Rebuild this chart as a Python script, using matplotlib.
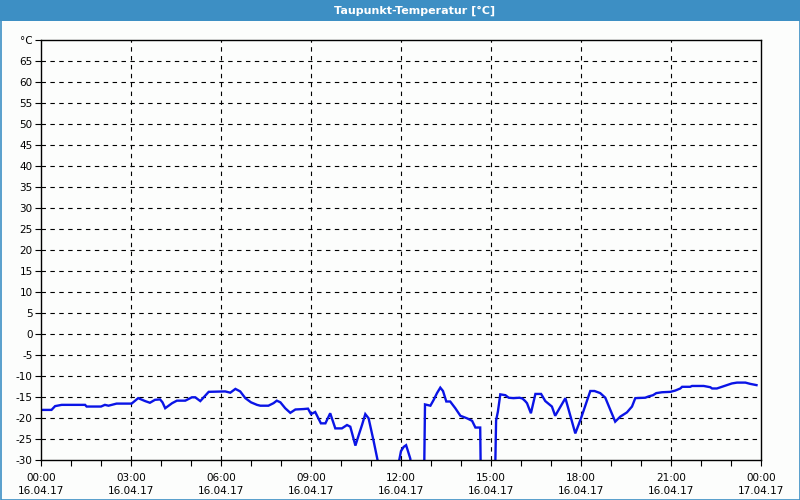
import matplotlib.pyplot as plt
from matplotlib.patches import Rectangle

# Stunden seit 16.04.17 00:00 und Taupunkt in °C
hours = [0.0, 0.35, 0.47, 0.69, 1.47, 1.52, 2.0, 2.13, 2.25, 2.52, 3.02, 3.24, 3.47, 3.63,
         3.8, 3.97, 4.05, 4.14, 4.37, 4.53, 4.81, 5.03, 5.14, 5.31, 5.59, 6.14, 6.31, 6.48,
         6.64, 6.81, 7.0, 7.2, 7.31, 7.58, 7.75, 7.86, 7.98, 8.14, 8.31, 8.48, 8.75, 8.9,
         9.0, 9.14, 9.33, 9.48, 9.64, 9.81, 10.03, 10.2, 10.31, 10.48, 10.59, 10.7, 10.81,
         10.92, 11.09, 11.22, 11.3, 11.9, 11.94, 12.0, 12.09, 12.17, 12.31, 12.4, 12.76,
         12.8, 12.98, 13.09, 13.2, 13.31, 13.4, 13.51, 13.64, 13.81, 13.98, 14.2, 14.37,
         14.48, 14.64, 14.67, 15.12, 15.17, 15.23, 15.31, 15.48, 15.59, 15.75, 15.95, 16.05,
         16.14, 16.2, 16.33, 16.48, 16.67, 16.81, 17.03, 17.14, 17.48, 17.81,
         18.0, 18.31, 18.45, 18.64, 18.81, 19.14, 19.31, 19.53, 19.7, 19.81, 20.14, 20.25,
         20.4, 20.51, 20.7, 20.98, 21.14, 21.31, 21.37, 21.64, 21.7, 22.09, 22.31, 22.37,
         22.53, 22.7, 22.87, 23.03, 23.2, 23.48, 23.64, 23.85]
dewpoint = [-18.0, -18.0, -17.1, -16.8, -16.8, -17.2, -17.2, -16.8, -17.0, -16.5, -16.5, -15.2,
            -15.9, -16.3, -15.6, -15.5, -16.2, -17.6, -16.4, -15.8, -15.8, -15.0, -15.0, -15.9,
            -13.7, -13.6, -13.9, -13.0, -13.6, -15.2, -16.2, -16.8, -17.0, -17.0, -16.4, -15.8,
            -16.2, -17.6, -18.7, -17.9, -17.8, -17.7, -19.0, -18.5, -21.2, -21.2, -18.8, -22.4,
            -22.4, -21.6, -22.0, -26.5, -24.0, -21.6, -19.0, -20.0, -25.5, -30.0, -40.0, -40.0,
            -30.0, -27.8, -26.8, -26.4, -29.6, -40.0, -40.0, -16.7, -17.0, -15.6, -14.0, -12.7,
            -13.5, -16.0, -16.0, -17.6, -19.4, -20.0, -20.6, -22.2, -22.2, -40.0, -40.0, -20.5,
            -18.4, -14.3, -14.5, -15.1, -15.2, -15.1, -15.3,
            -15.9, -16.4, -18.8, -14.2, -14.2, -15.9, -17.2, -19.4, -15.2, -23.6,
            -20.0, -13.5, -13.5, -14.0, -15.1, -20.8, -19.6, -18.6, -17.2, -15.2, -15.1, -14.8,
            -14.5, -14.0, -13.8, -13.7, -13.4, -12.9, -12.5, -12.5, -12.3, -12.3, -12.6, -12.9,
            -12.9, -12.5, -12.1, -11.7, -11.5, -11.5, -11.8, -12.1]

x_ticks = [0, 3, 6, 9, 12, 15, 18, 21, 24]
x_labels = ['00:00\n16.04.17', '03:00\n16.04.17', '06:00\n16.04.17', '09:00\n16.04.17',
            '12:00\n16.04.17', '15:00\n16.04.17', '18:00\n16.04.17', '21:00\n16.04.17',
            '00:00\n17.04.17']
y_ticks = list(range(-30, 75, 5))
y_labels = [str(v) for v in range(-30, 70, 5)] + ['°C']

bg = '#fcfdfc'
bar = '#3d8fc4'

fig = plt.figure(figsize=(8, 5), dpi=100, facecolor=bg)
ax = fig.add_axes([41 / 800, 1 - 460.3 / 500, 720 / 800, 420 / 500])
ax.set_facecolor(bg)

ax.plot(hours, dewpoint, color='#0a14e6', linewidth=1.7, solid_joinstyle='miter')

ax.set_xlim(0, 24)
ax.set_ylim(-30, 70)
ax.set_xticks(x_ticks)
ax.set_xticklabels(x_labels, fontsize=7.5, linespacing=1.45)
ax.set_xticks(range(0, 25), minor=True)
ax.set_yticks(y_ticks)
ax.set_yticklabels(y_labels, fontsize=7.5)
ax.tick_params(axis='both', which='both', length=4, width=0.8, color='black', pad=2)
ax.tick_params(axis='x', which='major', pad=5)

for v in range(-25, 70, 5):
    ax.axhline(v, color='black', linewidth=0.8, linestyle=(0, (4, 4)), zorder=0)
for h in range(3, 24, 3):
    ax.axvline(h, color='black', linewidth=0.8, linestyle=(0, (4, 4)), zorder=0)

for s in ax.spines.values():
    s.set_linewidth(1.0)

# Titelleiste und Rahmen
fig.patches.append(Rectangle((0, 1 - 21 / 500), 1, 21 / 500, transform=fig.transFigure,
                             facecolor=bar, edgecolor='none', zorder=0))
fig.patches.append(Rectangle((0.5 / 800, 0.5 / 500), 799 / 800, 499 / 500, transform=fig.transFigure,
                             facecolor='none', edgecolor=bar, linewidth=1.2, zorder=5))
fig.text(415 / 800, 1 - 10.5 / 500, 'Taupunkt-Temperatur [°C]', color='white', fontsize=8,
         fontweight='bold', ha='center', va='center')

fig.savefig('out.png', dpi=100, facecolor=bg)
